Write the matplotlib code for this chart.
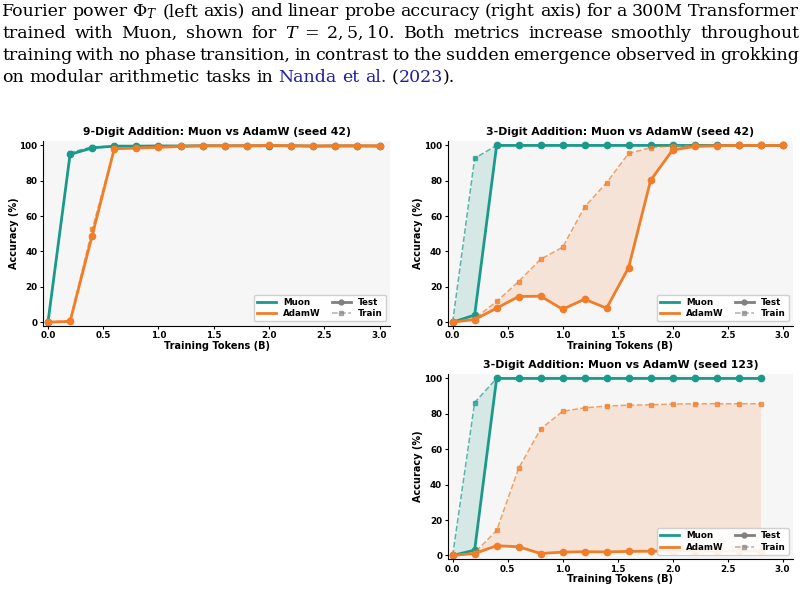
import numpy as np
import matplotlib.pyplot as plt
from matplotlib.lines import Line2D

plt.rcParams["font.family"] = "DejaVu Sans"
plt.rcParams["mathtext.fontset"] = "dejavuserif"

MUON = "#1a9a8b"
ADAMW = "#f07d28"
LINK = "#1f1f9f"

tokens = [0.0, 0.2, 0.4, 0.6, 0.8, 1.0, 1.2, 1.4, 1.6, 1.8, 2.0, 2.2, 2.4, 2.6, 2.8, 3.0]
tokens_123 = tokens[:15]

# 9-digit addition, seed 42
d9_muon_test = [0, 94.9, 98.6, 99.6, 99.6, 99.7, 99.7, 99.8, 99.8, 99.8, 99.8, 99.8, 99.6, 99.7, 99.7, 99.6]
d9_muon_train = [0, 95.9, 99.2, 99.5, 99.6, 99.7, 99.8, 99.8, 99.8, 99.8, 99.8, 99.8, 99.7, 99.7, 99.7, 99.6]
d9_adam_test = [0, 0.4, 49.0, 98.1, 98.5, 98.9, 99.4, 99.8, 99.8, 99.8, 100, 99.8, 99.7, 99.8, 99.8, 99.8]
d9_adam_train = [0, 1.0, 52.5, 98.3, 98.8, 99.1, 99.5, 99.8, 99.8, 99.8, 100, 99.8, 99.8, 99.8, 99.8, 99.8]

# 3-digit addition, seed 42
d3_muon_test = [0, 4.0, 100, 100, 100, 100, 100, 100, 100, 100, 100, 100, 100, 100, 100, 100]
d3_muon_train = [0, 92.7, 100, 100, 100, 100, 100, 100, 100, 100, 100, 100, 100, 100, 100, 100]
d3_adam_test = [0, 1.5, 7.9, 14.5, 14.7, 7.3, 13.0, 7.9, 30.9, 80.2, 97.4, 99.4, 99.8, 100, 100, 100]
d3_adam_train = [0, 2.0, 11.7, 23.0, 35.6, 42.4, 65.2, 78.9, 95.5, 98.7, 99.7, 100, 100, 100, 100, 100]

# 3-digit addition, seed 123
s123_muon_test = [0, 3.0, 100, 100, 100, 100, 100, 100, 100, 100, 100, 100, 100, 100, 100]
s123_muon_train = [0, 86.4, 100, 100, 100, 100, 100, 100, 100, 100, 100, 100, 100, 100, 100]
s123_adam_test = [0, 1.1, 5.5, 4.9, 1.1, 1.9, 2.1, 2.0, 2.3, 2.4, 2.5, 2.5, 2.5, 2.5, 2.5]
s123_adam_train = [0, 1.5, 14.1, 49.2, 71.4, 81.4, 83.4, 84.4, 84.9, 85.1, 85.5, 85.7, 85.7, 85.7, 85.7]

caption = [
    "Fourier power $\\Phi_T$ (left axis) and linear probe accuracy (right axis) for a 300M Transformer",
    "trained with Muon, shown for $T\\;=\\;2,5,10$. Both metrics increase smoothly throughout",
    "training with no phase transition, in contrast to the sudden emergence observed in grokking",
    "on modular arithmetic tasks in",
]
cite = [("Nanda", LINK), (" ", "k"), ("et", LINK), (" ", "k"), ("al.", LINK), (" ", "k"),
        ("(", "k"), ("2023", LINK), (").", "k")]

W, H = 805, 615
fig = plt.figure(figsize=(W / 100, H / 100), dpi=100)
renderer = fig.canvas.get_renderer()


def px_axes(x0, y0, x1, y1):
    return fig.add_axes([x0 / W, 1 - y1 / H, (x1 - x0) / W, (y1 - y0) / H])


def panel(ax, x, muon_test, muon_train, adam_test, adam_train, title):
    ax.set_facecolor("#f6f6f6")
    for c, test, train in [(MUON, muon_test, muon_train), (ADAMW, adam_test, adam_train)]:
        ax.fill_between(x, test, train, color=c, alpha=0.15, lw=0)
        ax.plot(x, train, color=c, ls="--", lw=1.1, marker="s", ms=3.2, alpha=0.7)
        ax.plot(x, test, color=c, lw=2.0, marker="o", ms=4.5)
    ax.set_xlim(-0.045, 3.095)
    ax.set_ylim(-2, 102.5)
    ax.set_xticks([0, 0.5, 1.0, 1.5, 2.0, 2.5, 3.0])
    ax.set_yticks([0, 20, 40, 60, 80, 100])
    for lab in ax.get_xticklabels() + ax.get_yticklabels():
        lab.set_fontweight("bold")
    ax.tick_params(labelsize=6.3, length=2.5, width=0.8, pad=1.5)
    ax.spines["top"].set_visible(False)
    ax.spines["right"].set_visible(False)
    ax.set_title(title, fontsize=7.8, fontweight="bold", pad=4)
    ax.set_xlabel("Training Tokens (B)", fontsize=7, fontweight="bold", labelpad=0.5)
    ax.set_ylabel("Accuracy (%)", fontsize=7, fontweight="bold", labelpad=0.5)
    handles = [
        Line2D([], [], color=MUON, lw=2, label="Muon"),
        Line2D([], [], color=ADAMW, lw=2, label="AdamW"),
        Line2D([], [], color="gray", lw=2, marker="o", ms=3.5, label="Test"),
        Line2D([], [], color="gray", lw=1.1, ls="--", marker="s", ms=3, alpha=0.6, label="Train"),
    ]
    ax.legend(handles=handles, loc="lower right", ncol=2, prop={"size": 6.3, "weight": "bold"},
              handlelength=2.2, columnspacing=1.2, labelspacing=0.3, borderpad=0.35,
              framealpha=0.9, edgecolor="#cccccc")


ax1 = px_axes(43, 141, 390, 325.7)
panel(ax1, tokens, d9_muon_test, d9_muon_train, d9_adam_test, d9_adam_train,
      "9-Digit Addition: Muon vs AdamW (seed 42)")
ax2 = px_axes(447.7, 141, 793, 325.7)
panel(ax2, tokens, d3_muon_test, d3_muon_train, d3_adam_test, d3_adam_train,
      "3-Digit Addition: Muon vs AdamW (seed 42)")
ax3 = px_axes(447.7, 374, 793, 559)
panel(ax3, tokens_123, s123_muon_test, s123_muon_train, s123_adam_test, s123_adam_train,
      "3-Digit Addition: Muon vs AdamW (seed 123)")

# caption text above the figure, justified like the paper
cap_font = dict(family="DejaVu Serif", size=12.0)


def width(s):
    t = fig.text(0, 0, s, **cap_font)
    w = t.get_window_extent(renderer).width
    t.remove()
    return w


def line_width(words, extra):
    sp = width("a a") - width("aa")
    return sum(width(w) for w in words) + sum(width(s) if s != " " else sp for s, c in extra) + sp * len(words)


# size the font so the last (unjustified) line ends where it does in the paper
natural = line_width(caption[3].split(" "), cite)
cap_font["size"] *= (453 - 2) / natural

space = width("a a") - width("aa")
x_left, x_right = 2, 799
baselines = [16, 38, 60, 82]
for i, line in enumerate(caption):
    words = line.split(" ")
    ws = [width(w) for w in words]
    if i < 3:
        gap = (x_right - x_left - sum(ws)) / (len(words) - 1)
    else:
        gap = space
    x = x_left
    for w, wd in zip(words, ws):
        fig.text(x / W, 1 - baselines[i] / H, w, va="baseline", ha="left", **cap_font)
        x += wd + gap
    if i == 3:
        for s, c in cite:
            if s == " ":
                x += space
                continue
            fig.text(x / W, 1 - baselines[i] / H, s, va="baseline", ha="left", color=c, **cap_font)
            x += width(s)

fig.savefig("out.png", dpi=100)
